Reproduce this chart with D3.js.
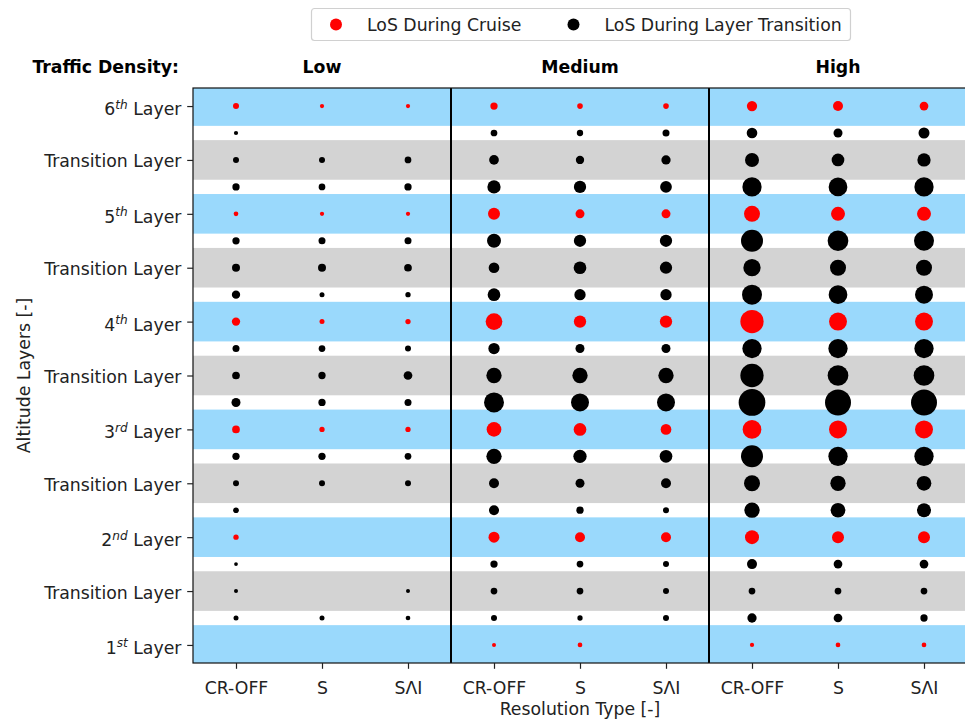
<!DOCTYPE html>
<html><head><meta charset="utf-8">
<script src="https://cdn.jsdelivr.net/npm/d3@7"></script>
<style>
body{margin:0;background:#fff;}
text{font-family:"DejaVu Sans",sans-serif;}
</style>
</head><body>
<svg id="chart" width="965" height="722"></svg>
<script>
// ---------- data ----------
const densities = ["Low", "Medium", "High"];
const resolutions = ["CR-OFF", "S", "S\u039BI"];
const yTickPos = [0, 2, 4, 6, 8, 10, 12, 14, 16, 18, 20];
const yTickLabels = ["1^{st} Layer", "Transition Layer", "2^{nd} Layer", "Transition Layer",
  "3^{rd} Layer", "Transition Layer", "4^{th} Layer", "Transition Layer",
  "5^{th} Layer", "Transition Layer", "6^{th} Layer"];
const cruisePos = [0, 4, 8, 12, 16, 20];                       // 1st..6th layer
const transitionPos = [1, 2, 3, 5, 6, 7, 9, 10, 11, 13, 14, 15, 17, 18, 19];
const bandLayers = [0, 4, 8, 12, 16, 20];
const bandTransitions = [2, 6, 10, 14, 18];

// LoS during cruise (marker area), per resolution type [CR-OFF, S, SΛI], layers 1..6
const cruiseLow    = [[0, 28, 59, 69, 22, 36], [0, 0, 28, 25, 18, 18], [0, 0, 28, 28, 18, 18]];
const cruiseMedium = [[16, 121, 216, 279, 144, 53], [22, 100, 161, 151, 81, 32], [0, 100, 114, 151, 81, 32]];
const cruiseHigh   = [[18, 196, 350, 543, 256, 106], [22, 144, 324, 324, 196, 100], [22, 144, 324, 324, 196, 76]];

// LoS during layer transition (marker area), at transitionPos (bottom to top)
const transLow    = [[25, 16, 14, 32, 36, 53, 81, 59, 49, 69, 64, 53, 53, 36, 18],
                     [25, 0, 0, 0, 36, 53, 53, 53, 45, 25, 64, 49, 45, 36, 0],
                     [22, 16, 0, 0, 36, 45, 49, 76, 36, 28, 59, 49, 53, 45, 0]];
const transMedium = [[36, 45, 53, 100, 100, 234, 400, 234, 128, 161, 114, 196, 177, 94, 45],
                     [28, 45, 45, 53, 81, 177, 324, 234, 81, 128, 161, 151, 151, 69, 40],
                     [36, 36, 36, 36, 100, 161, 324, 234, 81, 128, 151, 151, 137, 86, 49]];
const transHigh   = [[86, 45, 100, 234, 256, 484, 713, 543, 372, 400, 299, 484, 372, 196, 114],
                     [76, 45, 76, 216, 234, 372, 676, 428, 372, 350, 256, 428, 350, 161, 81],
                     [53, 45, 76, 196, 216, 372, 676, 428, 372, 324, 256, 400, 372, 177, 121]];

const legendLabels = ["LoS During Cruise", "LoS During Layer Transition"];
const seriesColors = ["#ff0000", "#000000"];

// ---------- layout ----------
const svg = d3.select("#chart");
const L = 193, R = 967, T = 88, B = 663;
const FS = 17.3;
const x = d3.scaleLinear().domain([-0.5, 8.5]).range([L, R]);
const y = d3.scaleLinear().domain([-0.67, 20.67]).range([B, T]);
const rScale = d3.scaleSqrt().domain([0, 800]).range([0, Math.sqrt(800) / 2]);

svg.append("defs").append("clipPath").attr("id", "clip")
  .append("rect").attr("x", L).attr("y", T).attr("width", R - L).attr("height", B - T);

const plot = svg.append("g").attr("clip-path", "url(#clip)");
const bh = 0.735;
plot.selectAll("rect.blue").data(bandLayers).join("rect")
  .attr("x", L).attr("width", R - L)
  .attr("y", d => y(d + bh)).attr("height", d => y(d - bh) - y(d + bh))
  .attr("fill", "#9ad9fc");
plot.selectAll("rect.gray").data(bandTransitions).join("rect")
  .attr("x", L).attr("width", R - L)
  .attr("y", d => y(d + bh)).attr("height", d => y(d - bh) - y(d + bh))
  .attr("fill", "#d3d3d3");

// points
const cruiseAll = [cruiseLow, cruiseMedium, cruiseHigh];
const transAll = [transLow, transMedium, transHigh];
const pts = [];
cruiseAll.forEach((blk, di) => blk.forEach((vals, ri) => vals.forEach((v, k) => {
  if (v > 0) pts.push({col: di * 3 + ri, pos: cruisePos[k], v, c: seriesColors[0]});
})));
transAll.forEach((blk, di) => blk.forEach((vals, ri) => vals.forEach((v, k) => {
  if (v > 0) pts.push({col: di * 3 + ri, pos: transitionPos[k], v, c: seriesColors[1]});
})));
plot.selectAll("circle").data(pts).join("circle")
  .attr("cx", d => x(d.col)).attr("cy", d => y(d.pos))
  .attr("r", d => rScale(d.v)).attr("fill", d => d.c);

// dividers
svg.selectAll("line.div").data([2.5, 5.5]).join("line")
  .attr("x1", d => x(d)).attr("x2", d => x(d)).attr("y1", T).attr("y2", B)
  .attr("stroke", "#000").attr("stroke-width", 2);

// spine
svg.append("rect").attr("x", L).attr("y", T).attr("width", R - L).attr("height", B - T)
  .attr("fill", "none").attr("stroke", "#111").attr("stroke-width", 1.2);

// axes
const yAxis = svg.append("g").attr("transform", `translate(${L},0)`)
  .call(d3.axisLeft(y).tickValues(yTickPos).tickSize(5.8).tickPadding(5.8).tickFormat((d, i) => ""));
yAxis.select(".domain").remove();
yAxis.selectAll(".tick line").attr("stroke", "#222").attr("stroke-width", 1.2);
yAxis.selectAll(".tick text").each(function(d, i) {
  const t = d3.select(this).attr("dy", null)
    .attr("font-size", FS).attr("font-family", "DejaVu Sans").attr("fill", "#222");
  const lab = yTickLabels[i];
  const m = lab.match(/^(\d)\^\{(\w+)\}(.*)$/);
  if (m) {
    t.attr("y", 8.5);
    t.append("tspan").text(m[1]);
    t.append("tspan").attr("font-style", "italic").attr("font-size", FS * 0.7).attr("dy", -6.5).text(m[2]);
    t.append("tspan").attr("dy", 6.5).text(m[3]);
  } else {
    t.attr("y", 7).text(lab);
  }
});

const xAxis = svg.append("g").attr("transform", `translate(0,${B})`)
  .call(d3.axisBottom(x).tickValues(d3.range(9)).tickSize(5.8).tickPadding(5.8)
    .tickFormat(i => resolutions[i % 3]));
xAxis.select(".domain").remove();
xAxis.selectAll(".tick line").attr("stroke", "#222").attr("stroke-width", 1.2);
xAxis.selectAll(".tick text").attr("font-size", FS).attr("font-family", "DejaVu Sans")
  .attr("fill", "#222").attr("dy", null).attr("y", 30.5);

// axis titles
svg.append("text").attr("x", (L + R) / 2).attr("y", 715).attr("text-anchor", "middle")
  .attr("font-size", FS).attr("fill", "#222").text("Resolution Type [-]");
svg.append("text").attr("transform", `translate(30,${(T + B) / 2}) rotate(-90)`)
  .attr("text-anchor", "middle").attr("font-size", FS).attr("fill", "#222").text("Altitude Layers [-]");

// headers
svg.append("text").attr("x", 179).attr("y", 73).attr("text-anchor", "end")
  .attr("font-size", FS).attr("font-weight", "bold").text("Traffic Density:");
svg.selectAll("text.hdr").data(densities).join("text")
  .attr("x", (d, i) => x(i * 3 + 1)).attr("y", 73).attr("text-anchor", "middle")
  .attr("font-size", FS).attr("font-weight", "bold").text(d => d);

// legend
const lg = svg.append("g");
lg.append("rect").attr("x", 311.5).attr("y", 8.5).attr("width", 539).attr("height", 32).attr("rx", 3)
  .attr("fill", "#fff").attr("stroke", "#d0d0d0").attr("stroke-width", 1.2);
const legX = [336, 573.5];
legendLabels.forEach((lab, i) => {
  lg.append("circle").attr("cx", legX[i]).attr("cy", 24.5).attr("r", 6).attr("fill", seriesColors[i]);
  lg.append("text").attr("x", legX[i] + 31).attr("y", 30.5).attr("font-size", FS).attr("fill", "#222").text(lab);
});
</script>
</body></html>
